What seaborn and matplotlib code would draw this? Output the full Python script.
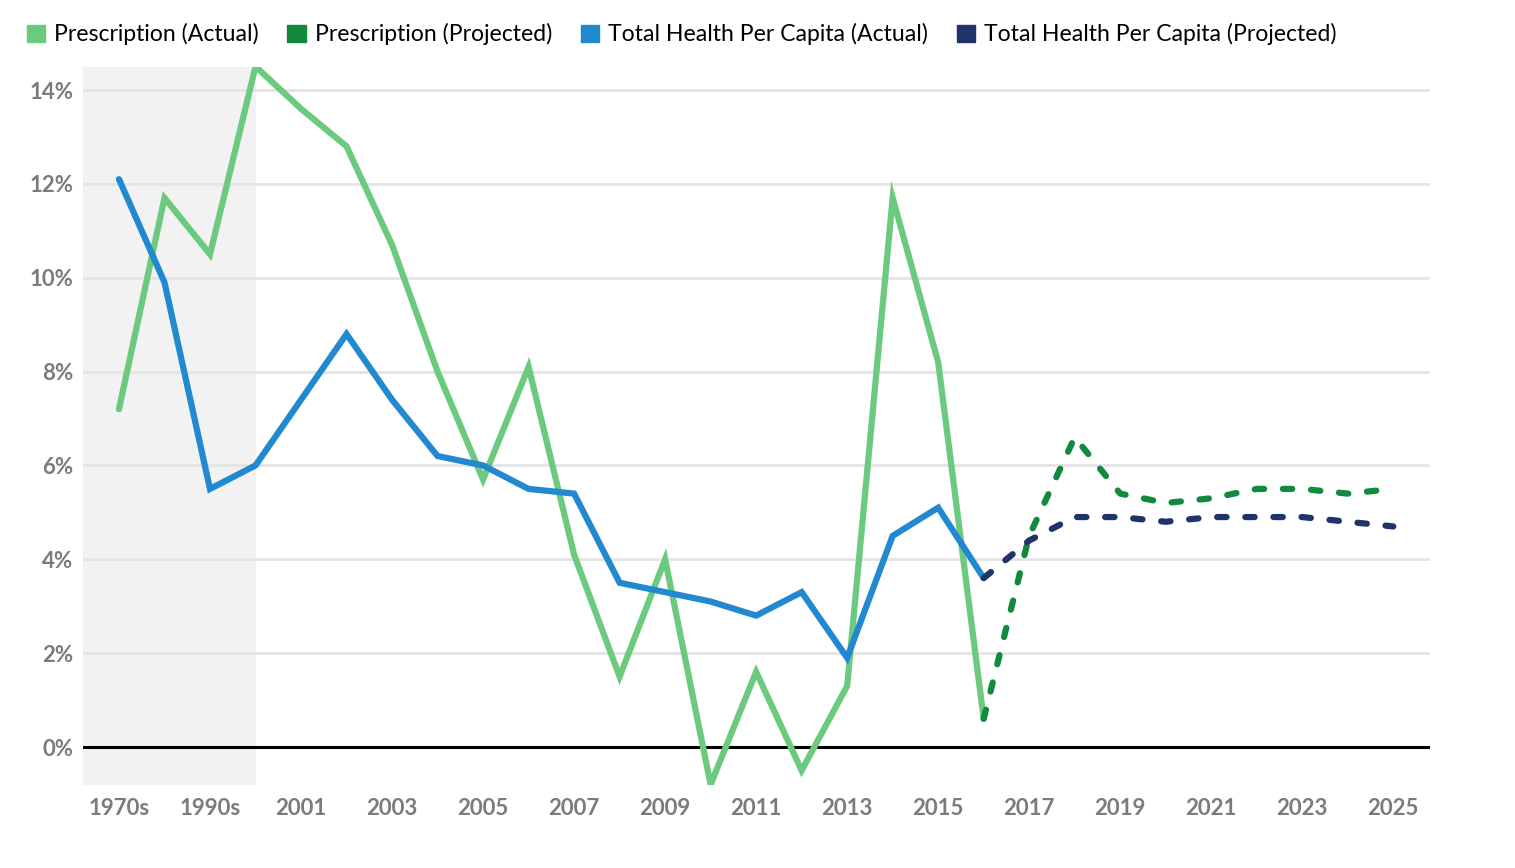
import numpy as np
import pandas as pd
import seaborn as sns
import matplotlib.pyplot as plt
from matplotlib.patches import Patch

# Catégories de l'axe x
periods = ["1970s", "1980s", "1990s"] + [str(y) for y in range(2000, 2026)]

# Séries (en %)
rx_actual = [7.2, 11.7, 10.5, 14.5, 13.6, 12.8, 10.7, 8.0, 5.7, 8.1, 4.1, 1.5,
             4.0, -0.8, 1.6, -0.5, 1.3, 11.7, 8.2, 0.6]
rx_projected = [0.6, 4.5, 6.6, 5.4, 5.2, 5.3, 5.5, 5.5, 5.4, 5.5]
health_actual = [12.1, 9.9, 5.5, 6.0, 7.4, 8.8, 7.4, 6.2, 6.0, 5.5, 5.4, 3.5,
                 3.3, 3.1, 2.8, 3.3, 1.9, 4.5, 5.1, 3.6]
health_projected = [3.6, 4.4, 4.9, 4.9, 4.8, 4.9, 4.9, 4.9, 4.8, 4.7]

n_actual = len(rx_actual)
idx = np.arange(len(periods))
x_actual = idx[:n_actual]
x_proj = idx[n_actual - 1:]

c_rx_a = "#6cca7e"
c_rx_p = "#128a3e"
c_h_a = "#2289d1"
c_h_p = "#1f3468"

sns.set_theme(style="white")
plt.rcParams["font.family"] = ["Lato", "DejaVu Sans"]

fig = plt.figure(figsize=(15.15, 8.68), dpi=100)
ax = fig.add_axes([0.0548, 0.0956, 0.8892, 0.8272])

# zone grisée (décennies)
ax.axvspan(-0.79, 3, color="#f2f2f2", zorder=0, lw=0)

for yv in range(2, 16, 2):
    ax.axhline(yv, color="#e4e4e4", lw=2, zorder=1)
ax.axhline(0, color="black", lw=2.2, zorder=2)

lw = 4.5
sns.lineplot(x=x_actual, y=rx_actual, ax=ax, color=c_rx_a, lw=lw, zorder=3)
sns.lineplot(x=x_actual, y=health_actual, ax=ax, color=c_h_a, lw=lw, zorder=4)
sns.lineplot(x=x_proj, y=rx_projected, ax=ax, color=c_rx_p, lw=lw, zorder=5)
sns.lineplot(x=x_proj, y=health_projected, ax=ax, color=c_h_p, lw=lw, zorder=6)
for line in ax.lines[-2:]:
    line.set_dashes([1.5, 3.0])
    line.set_dash_capstyle("round")
for line in ax.lines[-4:-2]:
    line.set_solid_joinstyle("miter")

ax.set_xlim(-0.79, 28.81)
ax.set_ylim(-0.81, 14.49)
ax.set_xticks(idx[::2])
ax.set_xticklabels(periods[::2])
ax.set_yticks(range(0, 15, 2))
ax.set_yticklabels([f"{v}%" for v in range(0, 15, 2)])
ax.tick_params(axis="both", length=0, labelsize=16, labelcolor="#7b7b7b")
ax.tick_params(axis="x", pad=9)
ax.tick_params(axis="y", pad=7)
for lab in ax.get_xticklabels() + ax.get_yticklabels():
    lab.set_fontweight("bold")
for s in ax.spines.values():
    s.set_visible(False)
ax.set_xlabel("")
ax.set_ylabel("")

handles = [Patch(color=c_rx_a), Patch(color=c_rx_p), Patch(color=c_h_a), Patch(color=c_h_p)]
labels = ["Prescription (Actual)", "Prescription (Projected)",
          "Total Health Per Capita (Actual)", "Total Health Per Capita (Projected)"]
fig.legend(handles, labels, loc="upper left", bbox_to_anchor=(0.004, 0.997), ncol=4,
           frameon=False, fontsize=16.6, handlelength=0.8, handleheight=0.8,
           handletextpad=0.4, columnspacing=1.23, labelcolor="black")

fig.savefig("out.png", dpi=100)
